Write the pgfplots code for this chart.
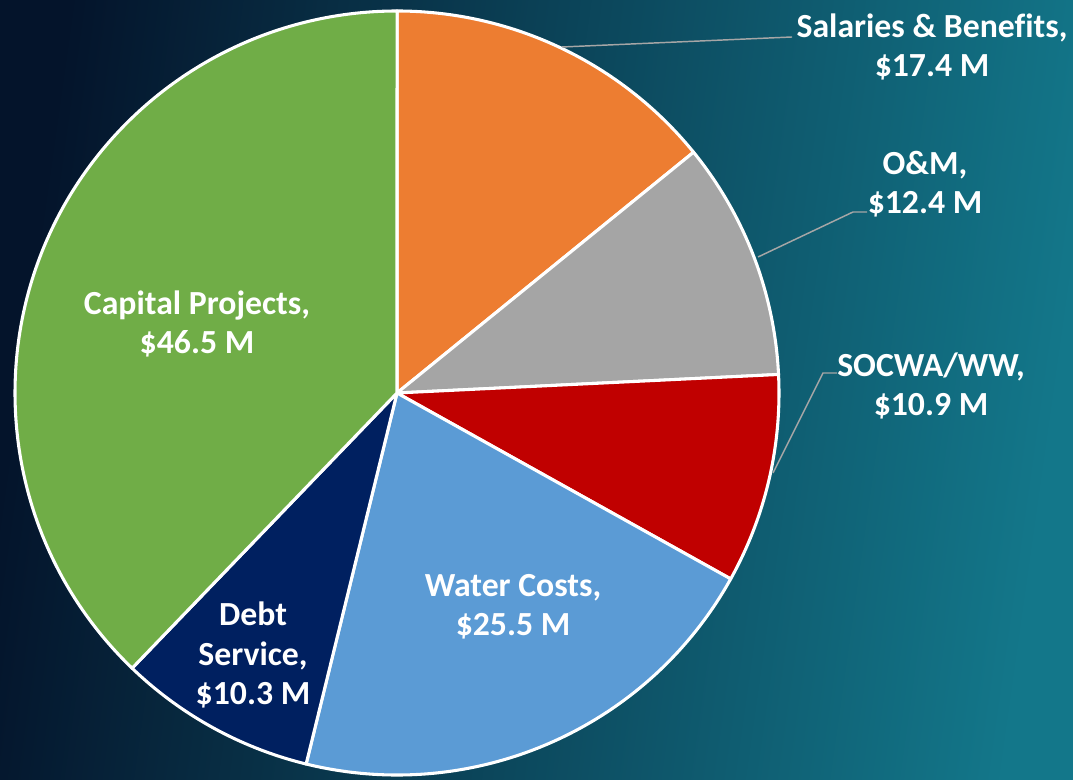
\documentclass[border=0pt]{standalone}
\usepackage{pgfplots}
\usepackage{pgfplotstable}
\pgfplotsset{compat=1.18}
\usepackage{fontspec}
\setmainfont{Carlito}[Ligatures=NoCommon]
\definecolor{cSal}{HTML}{ED7D31}
\definecolor{cOM}{HTML}{A5A5A5}
\definecolor{cSOC}{HTML}{C00000}
\definecolor{cWat}{HTML}{5B9BD5}
\definecolor{cDebt}{HTML}{002060}
\definecolor{cCap}{HTML}{70AD47}
\definecolor{bgA}{HTML}{04142B}
\definecolor{bgB}{HTML}{13778A}
\definecolor{lead}{HTML}{A6A6A6}
\pgfplotstableread{
name value
Salaries 17.4
OM 12.4
SOCWA 10.9
Water 25.5
Debt 10.3
Capital 46.5
}\pietable
\pgfplotstablegetelem{0}{value}\of\pietable \let\vA\pgfplotsretval
\pgfplotstablegetelem{1}{value}\of\pietable \let\vB\pgfplotsretval
\pgfplotstablegetelem{2}{value}\of\pietable \let\vC\pgfplotsretval
\pgfplotstablegetelem{3}{value}\of\pietable \let\vD\pgfplotsretval
\pgfplotstablegetelem{4}{value}\of\pietable \let\vE\pgfplotsretval
\pgfplotstablegetelem{5}{value}\of\pietable \let\vF\pgfplotsretval
\pgfmathsetmacro\tot{\vA+\vB+\vC+\vD+\vE+\vF}
\pgfmathsetmacro\aA{90}
\pgfmathsetmacro\aB{\aA-(\vA/\tot)*360}
\pgfmathsetmacro\aC{\aB-(\vB/\tot)*360}
\pgfmathsetmacro\aD{\aC-(\vC/\tot)*360}
\pgfmathsetmacro\aE{\aD-(\vD/\tot)*360}
\pgfmathsetmacro\aF{\aE-(\vE/\tot)*360}
\pgfmathsetmacro\aG{\aF-(\vF/\tot)*360}
\newcommand\sector[3]{\filldraw[fill=#3, draw=white, line width=2.3pt, line join=round] (axis cs:397,387) -- ++(#1:286.5pt) arc[start angle=#1, end angle=#2, radius=286.5pt] -- cycle;}
\newcommand\lbl[3]{\node[align=center, text=white, font=\bfseries\fontsize{25.3}{29.5}\selectfont, inner sep=0pt] at (axis cs:#1,#2) {#3};}
\begin{document}%
\begin{tikzpicture}
\begin{axis}[
  hide axis, scale only axis,
  width=804.75pt, height=585pt,
  xmin=0, xmax=1073, ymin=0, ymax=780,
  clip=false,
]
\shade[left color=bgA, right color=bgB, shading angle=82] (axis cs:0,0) rectangle (axis cs:1073,780);
\sector{\aA}{\aB}{cSal}
\sector{\aB}{\aC}{cOM}
\sector{\aC}{\aD}{cSOC}
\sector{\aD}{\aE}{cWat}
\sector{\aE}{\aF}{cDebt}
\sector{\aF}{\aG}{cCap}
\draw[lead, line width=1.1pt] (axis cs:562,733) -- (axis cs:792,743);
\draw[lead, line width=1.1pt] (axis cs:758,523) -- (axis cs:853,568) -- (axis cs:867,568);
\draw[lead, line width=1.1pt] (axis cs:773,307) -- (axis cs:823,407) -- (axis cs:837,407);
\lbl{932}{733}{Salaries \& Benefits,\\\$17.4 M}
\lbl{925}{596}{O\&M,\\\$12.4 M}
\lbl{931}{394}{SOCWA/WW,\\\$10.9 M}
\lbl{197}{456}{Capital Projects,\\\$46.5 M}
\lbl{513}{173}{Water Costs,\\\$25.5 M}
\lbl{253}{125}{Debt\\Service,\\\$10.3 M}
\end{axis}
\pgfresetboundingbox
\path (current axis.south west) rectangle (current axis.north east);
\end{tikzpicture}%
\end{document}
